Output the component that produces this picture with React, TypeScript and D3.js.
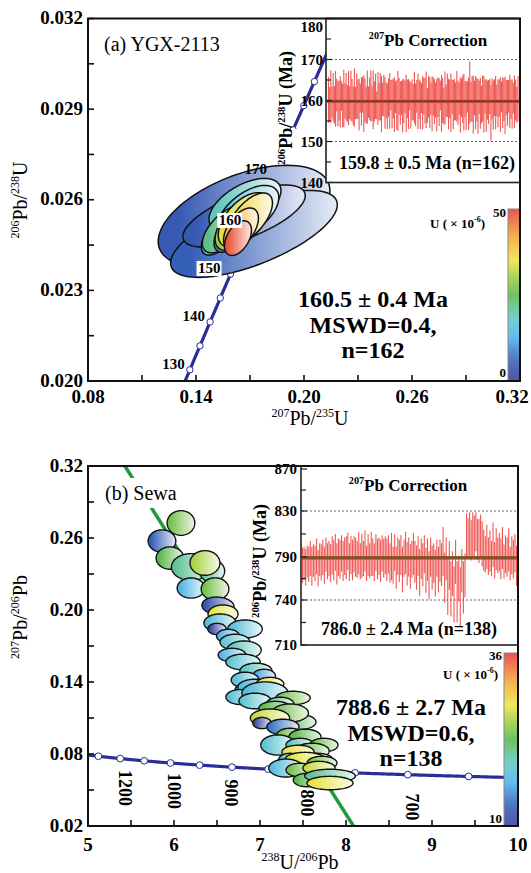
import React from "react";
import * as d3 from "d3";

const FONT = "'Liberation Serif','Times New Roman',Times,serif";

// ---------- decay constants ----------
const L238 = 1.55125e-10;
const L235 = 9.8485e-10;
const U_RATIO = 137.88;

// ---------- colour scale (U ppm, normalised) ----------
const colorStops = [0, 0.12, 0.25, 0.36, 0.5, 0.6, 0.7, 0.85, 1];
const colorHexes = ["#3a3d9e", "#3560b8", "#4fb2e8", "#62c8d0", "#5cb84c", "#9cce44", "#eee543", "#f2a03c", "#e63c3c"];

// ---------- Panel (a) ----------
const aXTicks = [0.08, 0.14, 0.2, 0.26, 0.32];
const aXTickLabels = ["0.08", "0.14", "0.20", "0.26", "0.32"];
const aYTicks = [0.02, 0.023, 0.026, 0.029, 0.032];
const aYTickLabels = ["0.020", "0.023", "0.026", "0.029", "0.032"];
const aConcordiaAgeRange = [120, 196];
const aDotAges = [130, 135, 140, 145, 150, 155, 160, 165, 170, 175, 180, 185, 190];
const aLabelAges = [130, 140, 150, 160, 170];
const aUDomain = [0, 50];

const aEllX = [0.1667, 0.1722, 0.1667, 0.1672, 0.1689, 0.1544, 0.1567, 0.1589, 0.1633, 0.1667, 0.17, 0.165, 0.1633];
const aEllY = [0.02546, 0.02487, 0.02546, 0.02583, 0.02559, 0.02493, 0.02503, 0.0249, 0.02516, 0.02533, 0.0254, 0.02503, 0.02473];
const aEllSX = [0.0477, 0.0463, 0.034, 0.02, 0.0171, 0.01144, 0.01318, 0.00889, 0.01269, 0.01435, 0.01247, 0.00967, 0.0075];
const aEllSY = [0.00168, 0.00144, 0.00103, 0.000876, 0.000885, 0.000762, 0.000785, 0.000639, 0.000834, 0.000904, 0.000825, 0.000696, 0.000574];
const aEllRho = [0.5, 0.67, 0.66, 0.54, 0.55, 0.64, 0.6, 0.52, 0.55, 0.54, 0.6, 0.52, 0.45];
const aEllU = [5, 6, 5, 19, 16, 12, 22, 8, 30, 34, 37, 40, 48];

// inset (a): 207Pb-corrected 206Pb/238U ages
const aInsetTicks = [140, 150, 160, 170, 180];
const aInsetMinor = [145, 155, 165, 175];
const aInsetDashed = [150, 170];
const aInsetMean = 159.8;
const aAge = [
  160.2, 159.1, 161.0, 159.6, 160.8, 158.9, 160.4, 161.3, 159.2, 160.0, 159.7, 161.1, 158.8, 160.5, 159.9, 160.9, 159.3, 160.6,
  159.5, 161.2, 160.1, 158.7, 160.7, 159.4, 161.0, 160.3, 159.0, 160.6, 159.8, 161.4, 159.2, 160.0, 158.9, 160.8, 159.6, 160.4,
  161.1, 159.3, 160.2, 159.8, 161.0, 158.8, 160.5, 159.7, 160.9, 159.1, 160.3, 161.2, 159.4, 160.0, 158.6, 160.7, 159.9, 161.3,
  159.2, 160.5, 159.0, 160.8, 158.9, 159.9, 161.0, 159.4, 160.6, 158.7, 159.8, 160.9, 159.3, 160.4, 159.1, 161.2, 158.8, 160.1,
  159.6, 160.7, 159.0, 161.0, 159.8, 160.3, 158.9, 160.6, 159.4, 161.1, 159.9, 160.2, 158.8, 160.9, 159.5, 160.4, 159.2, 161.0,
  159.7, 160.1, 158.9, 160.8, 159.6, 161.2, 159.3, 160.0, 158.7, 160.6, 159.9, 161.3, 159.1, 160.4, 159.5, 160.9, 159.0, 160.2,
  159.8, 161.0, 159.4, 160.5, 158.9, 160.7, 160.3, 159.6, 160.3, 158.8, 160.9, 159.2, 162.0, 159.7, 160.4, 159.0, 160.6, 159.5,
  160.2, 158.6, 160.8, 159.3, 159.0, 160.5, 159.1, 160.9, 158.8, 160.1, 159.6, 161.0, 157.0, 160.4, 158.9, 160.7, 159.5, 160.0,
  159.3, 160.6, 159.0, 160.9, 159.5, 160.2, 158.8, 160.7, 159.4, 161.0, 159.8, 160.3, 159.1, 160.6, 159.7, 160.1, 158.9, 160.5,
];
const aErr = [
  5.6, 4.2, 6.4, 3.8, 5.9, 4.6, 6.8, 4.0, 5.5, 4.9, 6.2, 3.6, 5.3, 7.0, 4.3, 5.8, 4.5, 6.6,
  4.0, 6.1, 5.2, 4.7, 7.1, 3.9, 5.6, 4.8, 6.3, 3.5, 5.9, 4.4, 6.9, 5.3, 4.5, 6.5, 3.8, 5.2,
  6.2, 4.3, 7.2, 4.9, 5.5, 3.4, 6.4, 4.6, 5.8, 6.9, 4.1, 5.1, 6.3, 4.4, 5.6, 4.7, 6.8, 3.7,
  5.9, 4.8, 6.7, 3.9, 6.1, 7.3, 4.5, 5.3, 4.2, 6.5, 5.4, 4.0, 7.0, 4.7, 6.1, 3.6, 5.6, 5.0,
  4.4, 6.3, 5.2, 4.0, 6.8, 4.8, 5.9, 3.7, 6.5, 4.5, 5.6, 6.9, 4.2, 5.1, 6.2, 3.9, 6.7, 4.7,
  5.5, 4.3, 6.4, 4.8, 5.8, 3.6, 6.9, 5.5, 4.5, 6.5, 4.0, 5.3, 6.2, 4.7, 7.1, 4.2, 6.0, 5.1,
  4.6, 6.2, 5.4, 3.9, 6.7, 4.7, 5.8, 6.9, 4.4, 6.0, 3.8, 6.4, 7.6, 4.8, 5.6, 7.1, 4.2, 6.5,
  5.3, 6.7, 4.1, 6.2, 4.6, 5.6, 6.9, 4.2, 6.4, 4.8, 5.4, 4.3, 6.8, 5.0, 6.0, 4.5, 6.5, 3.9,
  5.8, 4.6, 6.7, 3.8, 6.2, 5.2, 7.0, 4.3, 5.6, 4.0, 6.5, 4.8, 6.0, 3.7, 6.4, 5.0, 4.4, 5.5,
];

// ---------- Panel (b) ----------
const bXTicks = [5, 6, 7, 8, 9, 10];
const bXTickLabels = ["5", "6", "7", "8", "9", "10"];
const bYTicks = [0.02, 0.08, 0.14, 0.2, 0.26, 0.32];
const bYTickLabels = ["0.02", "0.08", "0.14", "0.20", "0.26", "0.32"];
const bDotAges = [650, 700, 750, 800, 850, 900, 950, 1000, 1050, 1100, 1150];
const bLabelText = ["1200", "1000", "900", "800", "700"];
const bLabelX = [5.43, 6.0, 6.66, 7.55, 8.77];
const bLabelY = [0.0517, 0.0492, 0.0475, 0.0392, 0.0358];
const bCommonPb = 0.9325; // 207Pb/206Pb intercept
const bLowerAge = 788.6;
const bUDomain = [10, 36];

const bEllX = [6.081, 5.86, 5.953, 6.198, 6.442, 6.36, 6.198, 6.477, 6.512, 6.57, 6.535, 6.5, 6.826, 6.628, 6.709, 6.814, 6.674, 6.802, 6.953, 7.047, 6.826, 6.884, 6.942, 7.116, 6.767, 7.058, 6.942, 7.384, 7.233, 7.174, 7.465, 7.233, 7.349, 7.116, 7.023, 7.267, 7.349, 7.523, 7.209, 7.465, 7.744, 7.605, 7.442, 7.349, 7.663, 7.523, 7.302, 7.465, 7.721, 7.686, 7.547, 7.814, 7.814];
const bEllY = [0.2725, 0.2575, 0.2433, 0.2358, 0.2325, 0.2392, 0.2183, 0.2175, 0.2033, 0.1967, 0.1892, 0.1842, 0.1842, 0.1783, 0.1733, 0.1667, 0.1625, 0.1567, 0.1492, 0.145, 0.1417, 0.1333, 0.1358, 0.1383, 0.1275, 0.1308, 0.1242, 0.1267, 0.1217, 0.1183, 0.1067, 0.1125, 0.1142, 0.11, 0.1058, 0.1025, 0.095, 0.0942, 0.0875, 0.0875, 0.0875, 0.0825, 0.0817, 0.075, 0.075, 0.0758, 0.0683, 0.0667, 0.0725, 0.0683, 0.0583, 0.0617, 0.0558];
const bEllSX = [0.161, 0.161, 0.161, 0.228, 0.147, 0.174, 0.161, 0.161, 0.187, 0.174, 0.187, 0.107, 0.2, 0.133, 0.174, 0.2, 0.161, 0.2, 0.187, 0.133, 0.161, 0.174, 0.2, 0.161, 0.163, 0.268, 0.187, 0.2, 0.161, 0.187, 0.186, 0.161, 0.214, 0.228, 0.107, 0.187, 0.161, 0.187, 0.2, 0.163, 0.163, 0.2, 0.187, 0.133, 0.187, 0.228, 0.2, 0.163, 0.174, 0.187, 0.161, 0.294, 0.268];
const bEllSY = [0.0103, 0.0093, 0.0093, 0.0112, 0.0093, 0.0103, 0.0084, 0.0093, 0.0075, 0.0075, 0.0075, 0.0047, 0.0075, 0.0056, 0.0065, 0.0075, 0.0056, 0.0065, 0.0065, 0.0056, 0.0065, 0.0065, 0.0065, 0.0056, 0.0062, 0.0093, 0.0065, 0.0056, 0.0056, 0.0056, 0.0062, 0.0056, 0.0075, 0.0075, 0.0047, 0.0065, 0.0065, 0.0065, 0.0084, 0.0056, 0.0056, 0.0065, 0.0056, 0.0056, 0.0056, 0.0056, 0.0075, 0.0056, 0.0056, 0.0056, 0.0056, 0.0056, 0.0056];
const bEllRho = [0, 0, 0, 0, 0, 0, 0, 0, -0.1, 0, 0, 0, 0, 0, 0, 0, 0, 0, 0, 0, 0, 0, 0, 0, 0, 0, 0, 0, 0, 0, 0, 0, 0, 0, 0, 0, 0, 0, 0, 0, 0, 0, 0, 0, 0, 0, 0, 0, 0, 0, 0, 0, 0];
const bEllU = [24, 13, 23, 21, 21, 26, 17, 24, 12, 28, 18, 11, 18, 17, 19, 20, 17, 19, 20, 16, 18, 16, 18, 28, 18, 18, 19, 24, 21, 23, 22, 14, 24, 27, 11, 14, 24, 23, 19, 20, 24, 23, 28, 18, 25, 28, 18, 24, 24, 27, 23, 21, 28];

// inset (b)
const bInsetTicks = [710, 740, 790, 830, 870];
const bInsetMinor = [725, 765, 810, 850];
const bInsetDashed = [740, 830];
const bInsetMean = 789;
const bAge = [
  779, 781, 777, 783, 780, 786, 778, 784, 781, 788, 776, 785, 782, 787, 779, 790, 783, 786,
  781, 789, 784, 792, 780, 787, 785, 791, 783, 788, 786, 793, 782, 789, 784, 790, 787, 785,
  791, 783, 788, 786, 793, 781, 789, 784, 790, 787, 782, 792, 785, 788, 783, 791, 786, 789,
  784, 790, 781, 787, 779, 792, 776, 788, 783, 789, 774, 786, 791, 780, 787, 777, 785, 790,
  782, 776, 788, 771, 785, 779, 790, 773, 784, 768, 787, 776, 781, 770, 786, 774, 783, 779,
  792, 766, 785, 760, 778, 757, 770, 752, 782, 755, 765, 750, 773, 758, 768, 808, 806, 810,
  804, 809, 807, 812, 805, 803, 808, 800, 794, 790, 797, 788, 793, 786, 799, 784, 795, 789,
  792, 785, 796, 783, 790, 787, 794, 781, 789, 785, 791, 778,
];
const bErr = [
  19, 18, 20, 17, 19, 18, 21, 17, 19, 18, 20, 17, 19, 18, 20, 17, 19, 18,
  20, 19, 21, 18, 22, 19, 20, 18, 21, 19, 22, 18, 20, 19, 21, 18, 20, 19,
  21, 19, 22, 18, 20, 19, 21, 18, 22, 19, 20, 18, 21, 19, 22, 18, 20, 19,
  22, 19, 21, 24, 20, 18, 23, 19, 22, 20, 25, 19, 21, 23, 20, 24, 19, 21,
  22, 24, 20, 26, 21, 23, 19, 25, 22, 27, 20, 24, 21, 26, 19, 25, 22, 23,
  24, 28, 22, 30, 26, 28, 25, 27, 23, 30, 26, 28, 24, 27, 25, 20, 18, 19,
  18, 20, 19, 17, 18, 20, 19, 21, 20, 18, 21, 19, 20, 18, 21, 19, 20, 18,
  19, 21, 20, 18, 19, 20, 21, 18, 19, 20, 19, 22,
];

// ---------- helpers ----------
function wetherill(t) {
  return [Math.exp(L235 * t * 1e6) - 1, Math.exp(L238 * t * 1e6) - 1];
}
function teraW(t) {
  const r68 = Math.exp(L238 * t * 1e6) - 1;
  const r75 = Math.exp(L235 * t * 1e6) - 1;
  return [1 / r68, r75 / (U_RATIO * r68)];
}
function ellipsePath(cx, cy, sx, sy, rho, xs, ys) {
  const k = Math.sqrt(1 - rho * rho);
  const pts = d3.range(0, 96).map((i) => {
    const th = (i / 96) * Math.PI * 2;
    return [xs(cx + sx * Math.cos(th)), ys(cy + sy * (rho * Math.cos(th) + k * Math.sin(th)))];
  });
  return d3.line()(pts) + "Z";
}

function Rich({ segs, size, weight = "normal", ...rest }) {
  let shift = 0;
  const spans = segs.map((s, i) => {
    const target = s.sup ? -size * 0.4 : 0;
    const dy = target - shift;
    shift = target;
    return (
      <tspan key={i} dy={dy} fontSize={s.sup ? size * 0.6 : size}>
        {s.t}
      </tspan>
    );
  });
  return (
    <text fontFamily={FONT} fontWeight={weight} fontSize={size} {...rest}>
      {spans}
    </text>
  );
}

export default function App() {
  const cNorm = d3.scaleLinear().domain(colorStops).range(colorHexes).interpolate(d3.interpolateRgb);

  // panel a scales
  const ax = d3.scaleLinear().domain([0.08, 0.32]).range([88, 520]);
  const ay = d3.scaleLinear().domain([0.02, 0.032]).range([381, 18.5]);
  const aU = d3.scaleLinear().domain(aUDomain).range([0, 1]).clamp(true);
  const aiX = d3.scaleLinear().domain([0, aAge.length - 1]).range([328.5, 518]);
  const aiY = d3.scaleLinear().domain([140, 180]).range([182.5, 18.5]);
  const aCb = d3.scaleLinear().domain(aUDomain).range([381, 209]);

  // panel b scales
  const bx = d3.scaleLinear().domain([5, 10]).range([88, 518]);
  const by = d3.scaleLinear().domain([0.02, 0.32]).range([826, 466]);
  const bU = d3.scaleLinear().domain(bUDomain).range([0, 1]).clamp(true);
  const biX = d3.scaleLinear().domain([0, bAge.length - 1]).range([302.5, 516.5]);
  const biY = d3.scaleLinear().domain(bInsetTicks).range([645, 600, 557, 511, 469]);
  const bCb = d3.scaleLinear().domain(bUDomain).range([826, 653]);

  const lineA = d3.line().x((d) => ax(d[0])).y((d) => ay(d[1]));
  const concA = lineA(d3.range(aConcordiaAgeRange[0], aConcordiaAgeRange[1] + 0.01, 1).map(wetherill));
  const lineB = d3.line().x((d) => bx(d[0])).y((d) => by(d[1]));
  const concB = lineB(d3.range(560, 1301, 2).map(teraW));
  const lowerPt = teraW(bLowerAge);
  const slope = (lowerPt[1] - bCommonPb) / lowerPt[0];
  const discB = lineB([[0, bCommonPb], [11, bCommonPb + slope * 11]]);

  const ellFill = (c) => [c, d3.interpolateRgb(c, "#ffffff")(0.88)];

  const aMinorX = d3.range(aXTicks.length - 1).map((i) => (aXTicks[i] + aXTicks[i + 1]) / 2);
  const aMinorY = d3.range(aYTicks.length - 1).map((i) => (aYTicks[i] + aYTicks[i + 1]) / 2);
  const bMinorX = d3.range(bXTicks.length - 1).map((i) => (bXTicks[i] + bXTicks[i + 1]) / 2);
  const bMinorY = d3.range(bYTicks.length - 1).map((i) => (bYTicks[i] + bYTicks[i + 1]) / 2);

  const cbStops = d3.range(0, 1.0001, 0.05);
  const tickLabel = { fontFamily: FONT, fontWeight: "bold" };

  return (
    <svg width={531} height={873} style={{ position: "absolute", left: 0, top: 0, background: "#fff" }}>
      <defs>
        <clipPath id="clipA">
          <rect x={88} y={18.5} width={432} height={362.5} />
        </clipPath>
        <clipPath id="clipB">
          <rect x={88} y={466} width={430} height={360} />
        </clipPath>
        {aEllU.map((u, i) => {
          const [c0, c1] = ellFill(cNorm(aU(u)));
          return (
            <linearGradient id={`ga${i}`} key={`ga${i}`} x1="0" y1="0" x2="1" y2="0">
              <stop offset="0" stopColor={c0} />
              <stop offset="0.12" stopColor={c0} />
              <stop offset="1" stopColor={c1} />
            </linearGradient>
          );
        })}
        {bEllU.map((u, i) => {
          const [c0, c1] = ellFill(cNorm(bU(u)));
          return (
            <linearGradient id={`gb${i}`} key={`gb${i}`} x1="0" y1="0" x2="1" y2="0">
              <stop offset="0" stopColor={c0} />
              <stop offset="0.1" stopColor={c0} />
              <stop offset="1" stopColor={c1} />
            </linearGradient>
          );
        })}
        <linearGradient id="cbar" x1="0" y1="1" x2="0" y2="0">
          {cbStops.map((s, i) => (
            <stop key={i} offset={s} stopColor={d3.interpolateRgb(cNorm(s), "#ffffff")(0.12)} />
          ))}
        </linearGradient>
      </defs>

      <rect x={0} y={0} width={531} height={873} fill="#fff" />

      {/* ================= PANEL A ================= */}
      <g clipPath="url(#clipA)">
        <path d={concA} fill="none" stroke="#2b2d96" strokeWidth={3.2} />
        {aDotAges.map((t) => {
          const p = wetherill(t);
          return <circle key={t} cx={ax(p[0])} cy={ay(p[1])} r={3.2} fill="#fff" stroke="#2b2d96" strokeWidth={1} />;
        })}
      </g>
      {/* area hidden behind inset axis title */}
      <rect x={255} y={129} width={71} height={54} fill="#fff" />

      {aEllX.map((x, i) => (
        <path
          key={`ea${i}`}
          d={ellipsePath(x, aEllY[i], aEllSX[i], aEllSY[i], aEllRho[i], ax, ay)}
          fill={`url(#ga${i})`}
          stroke="#111"
          strokeWidth={1.5}
        />
      ))}

      {aLabelAges.map((t) => {
        const p = wetherill(t);
        const boxed = t >= 150 && t <= 165;
        const x = ax(p[0]) - (boxed ? 10 : 5);
        const y = ay(p[1]) - (t >= 165 ? 4 : 1);
        return (
          <g key={`la${t}`}>
            {boxed && <rect x={x - 24} y={y - 12} width={25} height={15} fill="#fff" />}
            <text x={x} y={y} textAnchor="end" fontSize={15} {...tickLabel}>
              {t}
            </text>
          </g>
        );
      })}

      {/* inset a */}
      <rect x={326} y={18.5} width={194} height={164} fill="#fff" stroke="#222" strokeWidth={1.6} />
      {aInsetDashed.map((v) => (
        <line key={v} x1={327} x2={519} y1={aiY(v)} y2={aiY(v)} stroke="#666" strokeWidth={1} strokeDasharray="2,2" />
      ))}
      <line x1={327} x2={519} y1={aiY(aInsetMean)} y2={aiY(aInsetMean)} stroke="#2f9a45" strokeWidth={3} />
      {aAge.map((v, i) => (
        <line
          key={`ba${i}`}
          x1={aiX(i)}
          x2={aiX(i)}
          y1={aiY(v - aErr[i])}
          y2={aiY(v + aErr[i])}
          stroke="#ec3a34"
          strokeWidth={1.1}
          strokeOpacity={0.85}
        />
      ))}
      <line x1={327} x2={519} y1={aiY(aInsetMean)} y2={aiY(aInsetMean)} stroke="#8a2a1c" strokeWidth={1.8} strokeOpacity={0.9} />
      {aInsetTicks.map((v) => (
        <g key={`ait${v}`}>
          <line x1={326} x2={332} y1={aiY(v)} y2={aiY(v)} stroke="#222" strokeWidth={1.2} />
          <text x={323} y={Math.max(aiY(v), 27) + 5} textAnchor="end" fontSize={15} {...tickLabel}>
            {v}
          </text>
        </g>
      ))}
      {aInsetMinor.map((v) => (
        <line key={`aim${v}`} x1={326} x2={331} y1={aiY(v)} y2={aiY(v)} stroke="#222" strokeWidth={1.2} />
      ))}
      <Rich segs={[{ t: "207", sup: true }, { t: "Pb Correction" }]} size={17} weight="bold" x={428} y={46} textAnchor="middle" />
      <text x={427} y={169} textAnchor="middle" fontSize={18} {...tickLabel}>
        159.8 ± 0.5 Ma (n=162)
      </text>
      <Rich
        segs={[{ t: "206", sup: true }, { t: "Pb/" }, { t: "238", sup: true }, { t: "U (Ma)" }]}
        size={18}
        weight="bold"
        x={0}
        y={0}
        textAnchor="middle"
        transform="translate(292,108) rotate(-90)"
      />

      {/* colour bar a */}
      <rect x={508} y={aCb(aUDomain[1])} width={12} height={aCb(aUDomain[0]) - aCb(aUDomain[1])} fill="url(#cbar)" stroke="#888" strokeWidth={1} />
      <text x={506} y={aCb(aUDomain[1]) + 8} textAnchor="end" fontSize={13} {...tickLabel}>
        {aUDomain[1]}
      </text>
      <text x={506} y={aCb(aUDomain[0]) - 4} textAnchor="end" fontSize={13} {...tickLabel}>
        {aUDomain[0]}
      </text>
      <text x={485} y={228} textAnchor="end" fontFamily={FONT} fontWeight="bold" fontSize={13}>
        <tspan>U ( × 10</tspan>
        <tspan fontSize={8} dy={-6}>-6</tspan>
        <tspan dy={6}>)</tspan>
      </text>

      {/* big text a */}
      <g fontFamily={FONT} fontWeight="bold" fontSize={24} textAnchor="middle">
        <text x={373} y={307}>160.5 ± 0.4 Ma</text>
        <text x={373} y={333}>MSWD=0.4,</text>
        <text x={373} y={358}>n=162</text>
      </g>

      <text x={104} y={51} fontFamily={FONT} fontSize={20}>
        (a) YGX-2113
      </text>

      {/* axes a */}
      <rect x={88} y={18.5} width={432} height={362.5} fill="none" stroke="#111" strokeWidth={2} />
      {aXTicks.map((v, i) => {
        const x = Math.min(ax(v), 512);
        return (
          <g key={`axt${v}`}>
            <line x1={ax(v)} x2={ax(v)} y1={381} y2={375} stroke="#111" strokeWidth={1.6} />
            <text x={x} y={403} textAnchor="middle" fontSize={19} {...tickLabel}>
              {aXTickLabels[i]}
            </text>
          </g>
        );
      })}
      {aMinorX.map((v) => (
        <line key={`axm${v}`} x1={ax(v)} x2={ax(v)} y1={381} y2={375} stroke="#111" strokeWidth={1.6} />
      ))}
      {aYTicks.map((v, i) => (
        <g key={`ayt${v}`}>
          <line x1={88} x2={94} y1={ay(v)} y2={ay(v)} stroke="#111" strokeWidth={1.6} />
          <text x={83} y={ay(v) + 5.5} textAnchor="end" fontSize={19} {...tickLabel}>
            {aYTickLabels[i]}
          </text>
        </g>
      ))}
      {aMinorY.map((v) => (
        <line key={`aym${v}`} x1={88} x2={94} y1={ay(v)} y2={ay(v)} stroke="#111" strokeWidth={1.6} />
      ))}
      <Rich segs={[{ t: "207", sup: true }, { t: "Pb/" }, { t: "235", sup: true }, { t: "U" }]} size={20} x={310} y={425} textAnchor="middle" />
      <Rich
        segs={[{ t: "206", sup: true }, { t: "Pb/" }, { t: "238", sup: true }, { t: "U" }]}
        size={20}
        x={0}
        y={0}
        textAnchor="middle"
        transform="translate(27,200) rotate(-90)"
      />

      {/* ================= PANEL B ================= */}
      <g clipPath="url(#clipB)">
        <path d={discB} fill="none" stroke="#1f9a3c" strokeWidth={3.5} />
        <path d={concB} fill="none" stroke="#2b2d96" strokeWidth={3.2} />
        {bDotAges.map((t) => {
          const p = teraW(t);
          return <circle key={t} cx={bx(p[0])} cy={by(p[1])} r={3.4} fill="#fff" stroke="#2b2d96" strokeWidth={1} />;
        })}
      </g>
      <rect x={100} y={478} width={90} height={30} fill="#fff" />
      <text x={105} y={500} fontFamily={FONT} fontSize={20}>
        (b) Sewa
      </text>

      {bEllX.map((x, i) => (
        <path
          key={`eb${i}`}
          d={ellipsePath(x, bEllY[i], bEllSX[i], bEllSY[i], bEllRho[i], bx, by)}
          fill={`url(#gb${i})`}
          stroke="#111"
          strokeWidth={1.4}
        />
      ))}

      {bLabelText.map((s, i) => (
        <text
          key={`lb${s}`}
          x={0}
          y={0}
          textAnchor="middle"
          fontSize={18}
          {...tickLabel}
          transform={`translate(${bx(bLabelX[i])},${by(bLabelY[i])}) rotate(90) translate(0,6)`}
        >
          {s}
        </text>
      ))}

      {/* inset b */}
      <rect x={301} y={466} width={217} height={179} fill="#fff" stroke="#222" strokeWidth={1.6} />
      {bInsetDashed.map((v) => (
        <line key={v} x1={302} x2={517} y1={biY(v)} y2={biY(v)} stroke="#666" strokeWidth={1} strokeDasharray="2,2" />
      ))}
      <line x1={302} x2={517} y1={biY(bInsetMean)} y2={biY(bInsetMean)} stroke="#2f9a45" strokeWidth={3.5} />
      {bAge.map((v, i) => (
        <line
          key={`bb${i}`}
          x1={biX(i)}
          x2={biX(i)}
          y1={biY(v - bErr[i])}
          y2={biY(v + bErr[i])}
          stroke="#ec3a34"
          strokeWidth={1.1}
          strokeOpacity={0.85}
        />
      ))}
      <line x1={302} x2={517} y1={biY(bInsetMean)} y2={biY(bInsetMean)} stroke="#8a4a26" strokeWidth={2.6} strokeOpacity={0.85} />
      {bInsetTicks.map((v) => (
        <g key={`bit${v}`}>
          <line x1={301} x2={307} y1={biY(v)} y2={biY(v)} stroke="#222" strokeWidth={1.2} />
          <text x={297} y={biY(v) + 5} textAnchor="end" fontSize={15} {...tickLabel}>
            {v}
          </text>
        </g>
      ))}
      {bInsetMinor.map((v) => (
        <line key={`bim${v}`} x1={301} x2={306} y1={biY(v)} y2={biY(v)} stroke="#222" strokeWidth={1.2} />
      ))}
      <Rich segs={[{ t: "207", sup: true }, { t: "Pb Correction" }]} size={17} weight="bold" x={408} y={491} textAnchor="middle" />
      <text x={409} y={635} textAnchor="middle" fontSize={18} {...tickLabel}>
        786.0 ± 2.4 Ma (n=138)
      </text>
      <Rich
        segs={[{ t: "206", sup: true }, { t: "Pb/" }, { t: "238", sup: true }, { t: "U (Ma)" }]}
        size={18}
        weight="bold"
        x={0}
        y={0}
        textAnchor="middle"
        transform="translate(266,561) rotate(-90)"
      />

      {/* colour bar b */}
      <rect x={504} y={bCb(bUDomain[1])} width={14} height={bCb(bUDomain[0]) - bCb(bUDomain[1])} fill="url(#cbar)" stroke="#888" strokeWidth={1} />
      <text x={502} y={bCb(bUDomain[1]) + 7} textAnchor="end" fontSize={13} {...tickLabel}>
        {bUDomain[1]}
      </text>
      <text x={502} y={bCb(bUDomain[0]) - 3} textAnchor="end" fontSize={13} {...tickLabel}>
        {bUDomain[0]}
      </text>
      <text x={498} y={679} textAnchor="end" fontFamily={FONT} fontWeight="bold" fontSize={13}>
        <tspan>U ( × 10</tspan>
        <tspan fontSize={8} dy={-6}>-6</tspan>
        <tspan dy={6}>)</tspan>
      </text>

      {/* big text b */}
      <g fontFamily={FONT} fontWeight="bold" fontSize={24} textAnchor="middle">
        <text x={411} y={715}>788.6 ± 2.7 Ma</text>
        <text x={411} y={741}>MSWD=0.6,</text>
        <text x={411} y={766}>n=138</text>
      </g>

      {/* axes b */}
      <rect x={88} y={466} width={430} height={360} fill="none" stroke="#111" strokeWidth={2} />
      {bXTicks.map((v, i) => (
        <g key={`bxt${v}`}>
          <line x1={bx(v)} x2={bx(v)} y1={826} y2={820} stroke="#111" strokeWidth={1.6} />
          <text x={Math.min(bx(v), 519)} y={851} textAnchor="middle" fontSize={19} {...tickLabel}>
            {bXTickLabels[i]}
          </text>
        </g>
      ))}
      {bMinorX.map((v) => (
        <line key={`bxm${v}`} x1={bx(v)} x2={bx(v)} y1={826} y2={820} stroke="#111" strokeWidth={1.6} />
      ))}
      {bYTicks.map((v, i) => (
        <g key={`byt${v}`}>
          <line x1={88} x2={94} y1={by(v)} y2={by(v)} stroke="#111" strokeWidth={1.6} />
          <text x={83} y={by(v) + 5.5} textAnchor="end" fontSize={19} {...tickLabel}>
            {bYTickLabels[i]}
          </text>
        </g>
      ))}
      {bMinorY.map((v) => (
        <line key={`bym${v}`} x1={88} x2={94} y1={by(v)} y2={by(v)} stroke="#111" strokeWidth={1.6} />
      ))}
      <Rich segs={[{ t: "238", sup: true }, { t: "U/" }, { t: "206", sup: true }, { t: "Pb" }]} size={20} x={300} y={869} textAnchor="middle" />
      <Rich
        segs={[{ t: "207", sup: true }, { t: "Pb/" }, { t: "206", sup: true }, { t: "Pb" }]}
        size={20}
        x={0}
        y={0}
        textAnchor="middle"
        transform="translate(27,617) rotate(-90)"
      />
    </svg>
  );
}
